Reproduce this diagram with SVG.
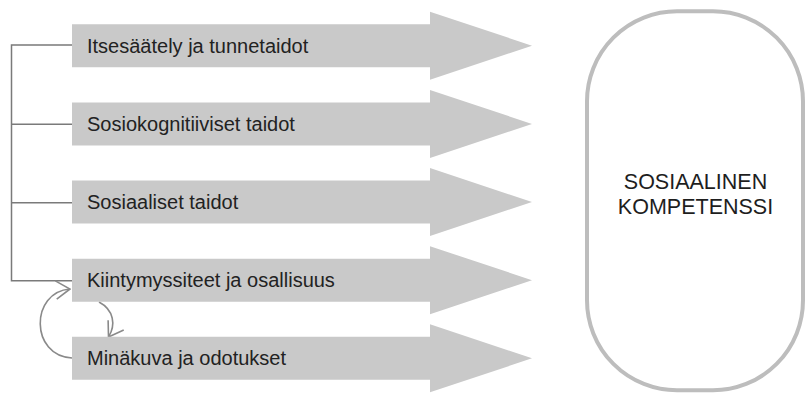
<svg xmlns="http://www.w3.org/2000/svg" width="805" height="394" viewBox="0 0 805 394">
  <style>
    .arrow { fill: #c9c9c9; }
    .label { font-family: "Liberation Sans", Arial, sans-serif; font-size: 20px; fill: #222222; }
    .title { font-family: "Liberation Sans", Arial, sans-serif; font-size: 21.5px; fill: #1e1e1e; text-anchor: middle; }
    .conn { fill: none; stroke: #7a7a7a; stroke-width: 1.5; }
    .loop { fill: none; stroke: #8a8a8a; stroke-width: 1.6; }
  </style>
  <defs>
    <!-- block arrow shape, centred on y=0 -->
    <path id="blockArrow" d="M72,-21.5 H430 V-34 L532,0 L430,34 V21.5 H72 Z"/>
    <marker id="chevron" viewBox="0 0 16 20" refX="15" refY="10" markerWidth="16" markerHeight="20" markerUnits="userSpaceOnUse" orient="auto">
      <path d="M1,0.8 L15,10 L1,19.2" fill="none" stroke="#8a8a8a" stroke-width="1.6"/>
    </marker>
  </defs>

  <rect width="805" height="394" fill="#ffffff"/>

  <g id="connectors">
    <path class="conn" d="M72,45 H11.5 V280.7 H72"/>
    <path class="conn" d="M11.5,124.3 H72"/>
    <path class="conn" d="M11.5,202.7 H72"/>
    <path class="loop" d="M72,358 C30,356 30,292 70,289" marker-end="url(#chevron)"/>
    <path class="loop" d="M99,302 C114,310 116,325 108.5,337" marker-end="url(#chevron)"/>
  </g>

  <g id="node-itsesaately">
    <use href="#blockArrow" class="arrow" transform="translate(0,45.7)"/>
    <text class="label" x="87" y="52.5">Itsesäätely ja tunnetaidot</text>
  </g>
  <g id="node-sosiokognitiiviset">
    <use href="#blockArrow" class="arrow" transform="translate(0,123.9)"/>
    <text class="label" x="87" y="130.5">Sosiokognitiiviset taidot</text>
  </g>
  <g id="node-sosiaaliset">
    <use href="#blockArrow" class="arrow" transform="translate(0,202)"/>
    <text class="label" x="87" y="208.6">Sosiaaliset taidot</text>
  </g>
  <g id="node-kiintymyssiteet">
    <use href="#blockArrow" class="arrow" transform="translate(0,280.2)"/>
    <text class="label" x="87" y="286.8">Kiintymyssiteet ja osallisuus</text>
  </g>
  <g id="node-minakuva">
    <use href="#blockArrow" class="arrow" transform="translate(0,358.3)"/>
    <text class="label" x="87" y="364.9">Minäkuva ja odotukset</text>
  </g>

  <g id="node-kompetenssi">
    <rect x="587" y="11.3" width="216" height="379" rx="90" ry="90" fill="#ffffff" stroke="#bdbdbd" stroke-width="4"/>
    <text class="title" x="695.5" y="189">SOSIAALINEN</text>
    <text class="title" x="695.5" y="213.5">KOMPETENSSI</text>
  </g>
</svg>
